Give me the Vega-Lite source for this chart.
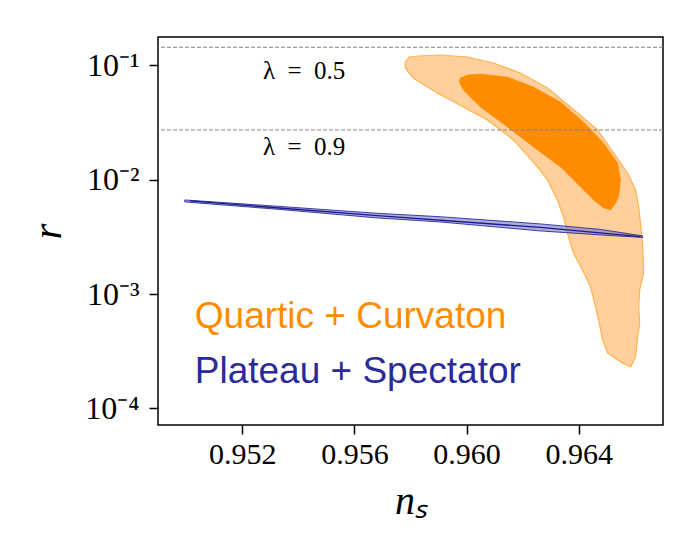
{
  "$schema": "https://vega.github.io/schema/vega-lite/v6.json",
  "width": 505,
  "height": 388,
  "autosize": {"type": "none"},
  "padding": {"left": 158, "top": 37, "right": 37, "bottom": 135},
  "background": "white",
  "config": {
    "view": {"stroke": "black", "strokeWidth": 1.5},
    "axis": {
      "grid": false, "domain": false, "tickColor": "black", "tickWidth": 1.5, "tickSize": 9,
      "labelColor": "black", "labelFont": "Liberation Serif", "labelFontSize": 30,
      "titleColor": "black", "titleFont": "Liberation Serif", "titleFontStyle": "italic", "titleFontWeight": "normal"
    }
  },
  "datasets": {
    "orange_outer": [
      {"i": 1, "ns": 0.957811, "r": 0.09509},
      {"i": 2, "ns": 0.957811, "r": 0.10730},
      {"i": 3, "ns": 0.957954, "r": 0.11869},
      {"i": 4, "ns": 0.958275, "r": 0.12110},
      {"i": 5, "ns": 0.959061, "r": 0.12354},
      {"i": 6, "ns": 0.960025, "r": 0.11869},
      {"i": 7, "ns": 0.960954, "r": 0.10516},
      {"i": 8, "ns": 0.961918, "r": 0.08599},
      {"i": 9, "ns": 0.962882, "r": 0.06355},
      {"i": 10, "ns": 0.963704, "r": 0.04334},
      {"i": 11, "ns": 0.964668, "r": 0.02727},
      {"i": 12, "ns": 0.965239, "r": 0.01716},
      {"i": 13, "ns": 0.965739, "r": 0.01147},
      {"i": 14, "ns": 0.966025, "r": 0.008143},
      {"i": 15, "ns": 0.966132, "r": 0.005782},
      {"i": 16, "ns": 0.966204, "r": 0.004023},
      {"i": 17, "ns": 0.966275, "r": 0.002689},
      {"i": 18, "ns": 0.966311, "r": 0.001530},
      {"i": 19, "ns": 0.966168, "r": 0.001086},
      {"i": 20, "ns": 0.966132, "r": 0.000771},
      {"i": 21, "ns": 0.966168, "r": 0.0005587},
      {"i": 22, "ns": 0.966096, "r": 0.0004213},
      {"i": 23, "ns": 0.966025, "r": 0.0002816},
      {"i": 24, "ns": 0.965846, "r": 0.0002303},
      {"i": 25, "ns": 0.965489, "r": 0.0002546},
      {"i": 26, "ns": 0.965025, "r": 0.0003052},
      {"i": 27, "ns": 0.964846, "r": 0.0003967},
      {"i": 28, "ns": 0.964704, "r": 0.0005935},
      {"i": 29, "ns": 0.964596, "r": 0.000771},
      {"i": 30, "ns": 0.964418, "r": 0.0011535},
      {"i": 31, "ns": 0.964132, "r": 0.001625},
      {"i": 32, "ns": 0.963811, "r": 0.002289},
      {"i": 33, "ns": 0.963632, "r": 0.003159},
      {"i": 34, "ns": 0.963454, "r": 0.004727},
      {"i": 35, "ns": 0.963239, "r": 0.006657},
      {"i": 36, "ns": 0.962882, "r": 0.00996},
      {"i": 37, "ns": 0.962525, "r": 0.01294},
      {"i": 38, "ns": 0.961668, "r": 0.0223},
      {"i": 39, "ns": 0.960739, "r": 0.03336},
      {"i": 40, "ns": 0.959882, "r": 0.04334},
      {"i": 41, "ns": 0.958954, "r": 0.05745},
      {"i": 42, "ns": 0.958096, "r": 0.07774},
      {"i": 43, "ns": 0.957811, "r": 0.09509}
    ],
    "orange_inner": [
      {"i": 1, "ns": 0.959739, "r": 0.07172},
      {"i": 2, "ns": 0.959775, "r": 0.07774},
      {"i": 3, "ns": 0.960025, "r": 0.08258},
      {"i": 4, "ns": 0.960489, "r": 0.08425},
      {"i": 5, "ns": 0.961454, "r": 0.07932},
      {"i": 6, "ns": 0.962382, "r": 0.06484},
      {"i": 7, "ns": 0.963346, "r": 0.04795},
      {"i": 8, "ns": 0.964168, "r": 0.03204},
      {"i": 9, "ns": 0.964882, "r": 0.02099},
      {"i": 10, "ns": 0.965382, "r": 0.01403},
      {"i": 11, "ns": 0.965489, "r": 0.00996},
      {"i": 12, "ns": 0.965418, "r": 0.007071},
      {"i": 13, "ns": 0.965311, "r": 0.006267},
      {"i": 14, "ns": 0.965132, "r": 0.005442},
      {"i": 15, "ns": 0.964882, "r": 0.005666},
      {"i": 16, "ns": 0.964525, "r": 0.006657},
      {"i": 17, "ns": 0.964061, "r": 0.00865},
      {"i": 18, "ns": 0.963346, "r": 0.01294},
      {"i": 19, "ns": 0.962382, "r": 0.01936},
      {"i": 20, "ns": 0.961454, "r": 0.02897},
      {"i": 21, "ns": 0.960489, "r": 0.04334},
      {"i": 22, "ns": 0.959882, "r": 0.06104},
      {"i": 23, "ns": 0.959739, "r": 0.07172}
    ],
    "blue_outer": [
      {"i": 1, "ns": 0.949954, "r": 0.006657},
      {"i": 2, "ns": 0.953346, "r": 0.005840},
      {"i": 3, "ns": 0.956811, "r": 0.005089},
      {"i": 4, "ns": 0.959061, "r": 0.004746},
      {"i": 5, "ns": 0.962632, "r": 0.004106},
      {"i": 6, "ns": 0.964775, "r": 0.003674},
      {"i": 7, "ns": 0.966275, "r": 0.003224},
      {"i": 8, "ns": 0.966275, "r": 0.003127},
      {"i": 9, "ns": 0.964775, "r": 0.003290},
      {"i": 10, "ns": 0.962632, "r": 0.003565},
      {"i": 11, "ns": 0.959061, "r": 0.004272},
      {"i": 12, "ns": 0.956811, "r": 0.004633},
      {"i": 13, "ns": 0.953346, "r": 0.005497},
      {"i": 14, "ns": 0.949954, "r": 0.006393},
      {"i": 15, "ns": 0.949954, "r": 0.006657}
    ],
    "blue_inner": [
      {"i": 1, "ns": 0.950132, "r": 0.006524},
      {"i": 2, "ns": 0.956811, "r": 0.004843},
      {"i": 3, "ns": 0.962632, "r": 0.003826},
      {"i": 4, "ns": 0.966204, "r": 0.003172}
    ],
    "lambda_lines": [
      {"lambda": 0.5, "r": 0.1443},
      {"lambda": 0.9, "r": 0.02727}
    ],
    "lambda_labels": [
      {"label": "λ\u2002=\u20020.5", "ns": 0.952739, "r": 0.07618},
      {"label": "λ\u2002=\u20020.9", "ns": 0.952739, "r": 0.01648}
    ],
    "models": [
      {"label": "Quartic + Curvaton", "ns": 0.950311, "r": 0.000505},
      {"label": "Plateau + Spectator", "ns": 0.950311, "r": 0.0001668}
    ]
  },
  "layer": [
    {
      "data": {"name": "orange_outer"},
      "mark": {"type": "line", "fill": "#FFD09B", "stroke": "#FFB24F", "strokeWidth": 1.2},
      "encoding": {
        "x": {"field": "ns", "type": "quantitative",
              "scale": {"domain": [0.949, 0.967], "nice": false, "zero": false},
              "axis": {"values": [0.952, 0.956, 0.960, 0.964], "format": ".3f", "title": "nₛ",
                       "titleFontSize": 40, "titleBaseline": "alphabetic", "titleY": 88, "labelPadding": 5}},
        "y": {"field": "r", "type": "quantitative",
              "scale": {"type": "log", "domain": [0.0000714, 0.1775], "nice": false},
              "axis": {"values": [0.1, 0.01, 0.001, 0.0001], "title": "r", "titleFontSize": 40,
                       "titleBaseline": "alphabetic", "titleX": -98, "titleY": 194, "labelPadding": 10,
                       "labelFontSize": 32,
                       "labelExpr": "datum.value > 0.05 ? '10⁻¹' : datum.value > 0.005 ? '10⁻²' : datum.value > 0.0005 ? '10⁻³' : '10⁻⁴'"}},
        "order": {"field": "i", "type": "quantitative"}
      }
    },
    {
      "data": {"name": "orange_inner"},
      "mark": {"type": "line", "fill": "#FF8C00", "stroke": "#FF8C00", "strokeWidth": 0.5},
      "encoding": {
        "x": {"field": "ns", "type": "quantitative"},
        "y": {"field": "r", "type": "quantitative", "scale": {"type": "log"}},
        "order": {"field": "i", "type": "quantitative"}
      }
    },
    {
      "data": {"name": "blue_outer"},
      "mark": {"type": "line", "fill": "#7878CC", "fillOpacity": 0.6, "stroke": "#22229A", "strokeWidth": 1, "strokeOpacity": 0.85},
      "encoding": {
        "x": {"field": "ns", "type": "quantitative"},
        "y": {"field": "r", "type": "quantitative", "scale": {"type": "log"}},
        "order": {"field": "i", "type": "quantitative"}
      }
    },
    {
      "data": {"name": "blue_inner"},
      "mark": {"type": "line", "stroke": "#1A1A8C", "strokeWidth": 1.3},
      "encoding": {
        "x": {"field": "ns", "type": "quantitative"},
        "y": {"field": "r", "type": "quantitative", "scale": {"type": "log"}},
        "order": {"field": "i", "type": "quantitative"}
      }
    },
    {
      "data": {"name": "lambda_lines"},
      "mark": {"type": "rule", "color": "#808080", "strokeWidth": 1, "strokeDash": [4, 2]},
      "encoding": {
        "y": {"field": "r", "type": "quantitative", "scale": {"type": "log"}}
      }
    },
    {
      "data": {"name": "lambda_labels"},
      "mark": {"type": "text", "align": "left", "baseline": "alphabetic", "font": "Liberation Serif", "fontSize": 25, "color": "black"},
      "encoding": {
        "x": {"field": "ns", "type": "quantitative"},
        "y": {"field": "r", "type": "quantitative", "scale": {"type": "log"}},
        "text": {"field": "label"}
      }
    },
    {
      "data": {"name": "models"},
      "mark": {"type": "text", "align": "left", "baseline": "alphabetic", "font": "Liberation Sans", "fontSize": 37},
      "encoding": {
        "x": {"field": "ns", "type": "quantitative"},
        "y": {"field": "r", "type": "quantitative", "scale": {"type": "log"}},
        "text": {"field": "label"},
        "color": {"field": "label", "type": "nominal",
                  "scale": {"domain": ["Quartic + Curvaton", "Plateau + Spectator"], "range": ["#FF8C00", "#2A2A9C"]},
                  "legend": null}
      }
    }
  ]
}
